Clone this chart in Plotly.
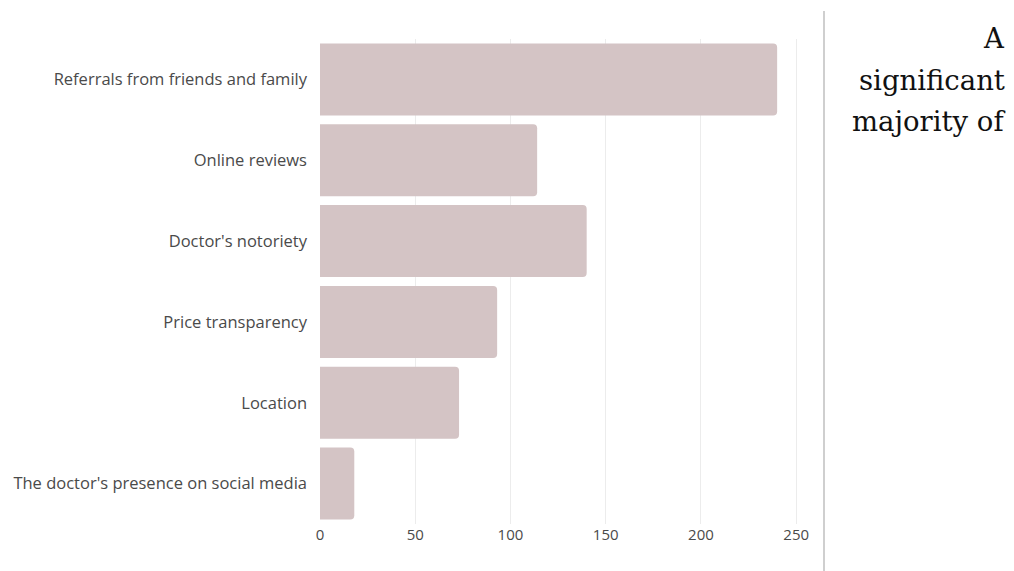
import plotly.graph_objects as go

# Survey: factors influencing the choice of a doctor
factors = [
    "Referrals from friends and family",
    "Online reviews",
    "Doctor's notoriety",
    "Price transparency",
    "Location",
    "The doctor's presence on social media",
]
responses = [240, 114, 140, 93, 73, 18]
x_ticks = [0, 50, 100, 150, 200, 250]
side_text = ["A", "significant", "majority of"]

W, H = 1014, 571
left, right, top, bottom = 320, 800, 39, 524

fig = go.Figure(
    go.Bar(
        y=factors,
        x=responses,
        orientation="h",
        marker=dict(color="#d4c4c5", line=dict(width=0)),
        hoverinfo="x+y",
    )
)

fig.update_layout(
    width=W,
    height=H,
    margin=dict(l=left, r=W - right, t=top, b=H - bottom, pad=0),
    paper_bgcolor="white",
    plot_bgcolor="white",
    bargap=0.11,
    barcornerradius=4,
    showlegend=False,
    font=dict(family="Open Sans, sans-serif", size=15, color="#4a4a4a"),
    xaxis=dict(
        range=[0, 252],
        tickvals=x_ticks,
        showgrid=True,
        gridcolor="#ececec",
        gridwidth=1,
        zeroline=False,
        showline=False,
        ticks="",
        tickfont=dict(size=15, color="#4a4a4a"),
        fixedrange=True,
    ),
    yaxis=dict(
        categoryorder="array",
        categoryarray=factors[::-1],
        showgrid=False,
        zeroline=False,
        showline=False,
        ticks="",
        ticklabelstandoff=12,
        tickfont=dict(size=16.5, color="#4a4a4a"),
        fixedrange=True,
    ),
)

# Vertical divider between the chart and the text column
div_x = (824 - left) / (right - left)
fig.add_shape(
    type="line",
    xref="paper",
    yref="paper",
    x0=div_x,
    x1=div_x,
    y0=(bottom - H) / (bottom - top),
    y1=(bottom - 11) / (bottom - top),
    line=dict(color="#cfcfcf", width=2),
)

# Right-aligned serif text column
text_x = (1006 - left) / (right - left)
text_size = 27.5
centers = [38, 80, 121]
for word, cy in zip(side_text, centers):
    fig.add_annotation(
        text=word,
        xref="paper",
        yref="paper",
        x=text_x,
        y=(bottom - cy) / (bottom - top),
        xanchor="right",
        yanchor="middle",
        showarrow=False,
        align="right",
        font=dict(family="DejaVu Serif, serif", size=text_size, color="#111111"),
        borderpad=0,
    )

fig.write_html("out.html")
